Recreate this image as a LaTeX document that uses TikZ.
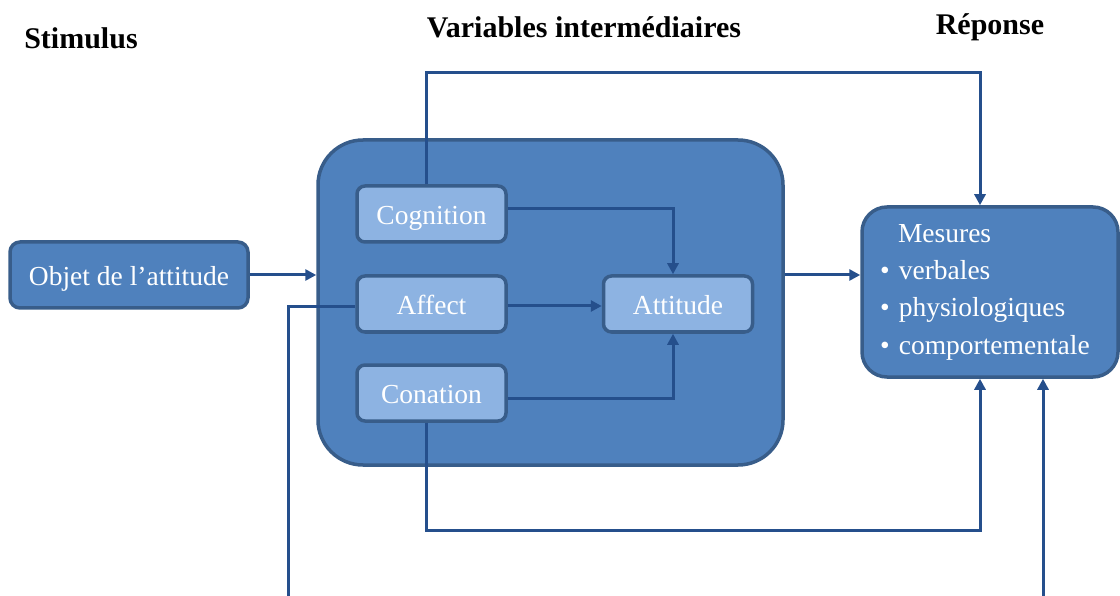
\documentclass[tikz,border=0pt]{standalone}
\usepackage{fontspec}
\setmainfont{Liberation Serif}
\usetikzlibrary{arrows.meta}
\definecolor{bleu}{HTML}{4F81BD}
\definecolor{bleuclair}{HTML}{8DB3E2}
\definecolor{bordbleu}{HTML}{385D8A}
\definecolor{fleche}{HTML}{254F8C}
\tikzset{
  titre/.style={font=\fontsize{30}{32}\selectfont\bfseries,inner sep=0pt},
  boite/.style={draw=bordbleu,line width=3.5pt,fill=bleu,text=white,
    font=\fontsize{27.5}{37.3}\selectfont,inner sep=0pt},
  petite/.style={boite,fill=bleuclair,rounded corners=8pt,
    minimum width=149pt,minimum height=56pt,text height=21pt,text depth=0pt},
  lien/.style={draw=fleche,line width=3pt},
  fl/.style={lien,-{Triangle[length=11pt,width=11pt]}}
}
\begin{document}
\begin{tikzpicture}[x=1pt,y=-1pt]
\useasboundingbox (0,0) rectangle (1120,596);
% titres
\node[titre] (stim) at (81,38) {Stimulus};
\node[titre] (varint) at (584,27) {Variables intermédiaires};
\node[titre] (rep) at (990,27) {Réponse};
% blocs
\node[boite,rounded corners=10pt,minimum width=238pt,minimum height=66pt,
  text height=21pt,text depth=0pt] (objet) at (129,275) {Objet de l’attitude};
\node[boite,rounded corners=45pt,minimum width=465pt,minimum height=325pt] (variables) at (550.5,302.5) {};
\node[petite] (cognition) at (431.5,214) {Cognition};
\node[petite] (affect) at (431.5,304) {Affect};
\node[petite] (conation) at (431.5,393) {Conation};
\node[petite] (attitude) at (678,304) {Attitude};
\node[boite,rounded corners=25pt,minimum width=256pt,minimum height=170pt,
  text width=220pt,inner xsep=18pt,align=left] (mesures) at (990,292)
  {\hspace*{18pt}Mesures\\• verbales\\• physiologiques\\• comportementale};
% bouts libres en bas
\coordinate (bas1) at (288,596);
\coordinate (bas2) at (1043,596);
% liaisons
\draw[fl] (objet.east) -- (objet.east -| variables.west);
\draw[fl] (variables.east |- objet.east) -- (mesures.west |- objet.east);
\draw[fl] ([yshift=5pt]cognition.east) -| ([xshift=-5pt]attitude.north);
\draw[fl] (affect.east |- 0,306) -- (attitude.west |- 0,306);
\draw[fl] ([yshift=-5pt]conation.east) -| ([xshift=-5pt]attitude.south);
\draw[fl] ([xshift=-5.5pt]cognition.north) |- (980,73) -- ([xshift=-10pt]mesures.north);
\draw[fl] ([xshift=-5.5pt]conation.south) |- (980,530) -- ([xshift=-10pt]mesures.south);
\draw[fl] (bas2) -- (bas2 |- mesures.south);
\draw[lien] (bas1) |- (affect.west |- 0,307);
\end{tikzpicture}
\end{document}
